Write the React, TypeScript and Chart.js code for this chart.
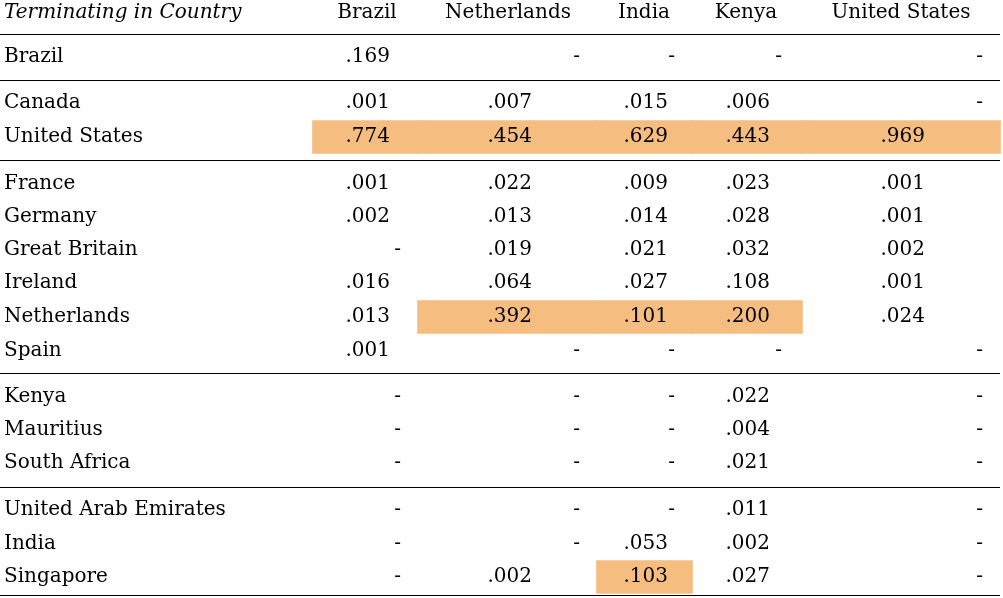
import React, { useEffect, useRef } from 'react';
import { Chart, registerables } from 'chart.js';

Chart.register(...registerables);

const W = 1003;
const H = 598;

const rowLabel = 'Terminating in Country';
const columns = ['Brazil', 'Netherlands', 'India', 'Kenya', 'United States'];
const rows = [
  'Brazil', 'Canada', 'United States', 'France', 'Germany', 'Great Britain', 'Ireland',
  'Netherlands', 'Spain', 'Kenya', 'Mauritius', 'South Africa',
  'United Arab Emirates', 'India', 'Singapore',
];
// shares per column, one entry per row ('-' = none)
const brazil = ['.169', '.001', '.774', '.001', '.002', '-', '.016', '.013', '.001', '-', '-', '-', '-', '-', '-'];
const netherlands = ['-', '.007', '.454', '.022', '.013', '.019', '.064', '.392', '-', '-', '-', '-', '-', '-', '.002'];
const india = ['-', '.015', '.629', '.009', '.014', '.021', '.027', '.101', '-', '-', '-', '-', '-', '.053', '.103'];
const kenya = ['-', '.006', '.443', '.023', '.028', '.032', '.108', '.200', '-', '.022', '.004', '.021', '.011', '.002', '.027'];
const unitedStates = ['-', '-', '.969', '.001', '.001', '.002', '.001', '.024', '-', '-', '-', '-', '-', '-', '-'];
const values = [brazil, netherlands, india, kenya, unitedStates];
// highlighted [row, column] cells
const highlights: [number, number][] = [
  [2, 0], [2, 1], [2, 2], [2, 3], [2, 4],
  [7, 1], [7, 2], [7, 3],
  [14, 2],
];

// layout
const rowY = [57, 103, 137, 184, 217, 250, 283, 317, 351, 397, 430, 463, 510, 544, 577];
const ruleY = [34, 80, 160, 373, 487, 595];
const colLeft = [313, 418, 597, 692, 802];
const colRight = [418, 597, 692, 802, 1000];
const headCenter = [367, 508, 644, 746, 901];
const numRight = [390, 532, 668, 770, 925];
const dashRight = [401, 580, 675, 782, 983];
const FONT = '"DejaVu Serif", serif';
const HL = '#f6bd80';

const App: React.FC = () => {
  const chartRef = useRef<HTMLCanvasElement>(null);

  useEffect(() => {
    document.body.style.margin = '0';
    if (!chartRef.current) return;
    const ctx = chartRef.current.getContext('2d');
    if (!ctx) return;

    const datasets = columns.map((_, c) => ({
      type: 'bar' as const,
      data: highlights
        .filter(([, hc]) => hc === c)
        .map(([r]) => ({ x: (colLeft[c] + colRight[c]) / 2, y: [rowY[r] - 16.5, rowY[r] + 16.5] })),
      backgroundColor: HL,
      borderWidth: 0,
      barThickness: colRight[c] - colLeft[c] + 1,
      grouped: false,
    }));

    const tablePlugin = {
      id: 'table',
      afterDatasetsDraw(chart: any) {
        const c = chart.ctx;
        const xs = chart.scales.x;
        const ys = chart.scales.y;
        c.save();
        c.fillStyle = '#000';
        c.textBaseline = 'middle';
        c.font = `italic 20px ${FONT}`;
        c.textAlign = 'left';
        c.fillText(rowLabel, xs.getPixelForValue(4), ys.getPixelForValue(13));
        c.font = `20px ${FONT}`;
        c.textAlign = 'center';
        columns.forEach((col, i) => c.fillText(col, xs.getPixelForValue(headCenter[i]), ys.getPixelForValue(13)));
        rows.forEach((row, r) => {
          const y = ys.getPixelForValue(rowY[r]);
          c.textAlign = 'left';
          c.fillText(row, xs.getPixelForValue(4), y);
          values.forEach((col, i) => {
            const v = col[r];
            c.textAlign = 'right';
            if (v === '-') c.fillText('-', xs.getPixelForValue(dashRight[i]), y);
            else c.fillText(v, xs.getPixelForValue(numRight[i]), y);
          });
        });
        c.strokeStyle = '#000';
        c.lineWidth = 1;
        ruleY.forEach((ry) => {
          const y = Math.round(ys.getPixelForValue(ry)) + 0.5;
          c.beginPath();
          c.moveTo(xs.getPixelForValue(0), y);
          c.lineTo(xs.getPixelForValue(1000), y);
          c.stroke();
        });
        c.restore();
      },
    };

    const chart = new Chart(ctx, {
      type: 'bar',
      data: { datasets: datasets as any },
      options: {
        responsive: false,
        animation: false,
        layout: { padding: 0 },
        plugins: { legend: { display: false }, tooltip: { enabled: false } },
        scales: {
          x: { type: 'linear', min: 0, max: W, offset: false, display: false },
          y: { type: 'linear', min: 0, max: H, reverse: true, display: false },
        },
      },
      plugins: [tablePlugin],
    });

    return () => {
      chart.destroy();
    };
  }, []);

  return (
    <div style={{ width: W, height: H, background: '#fff' }}>
      <canvas ref={chartRef} width={W} height={H} />
    </div>
  );
};

export default App;
